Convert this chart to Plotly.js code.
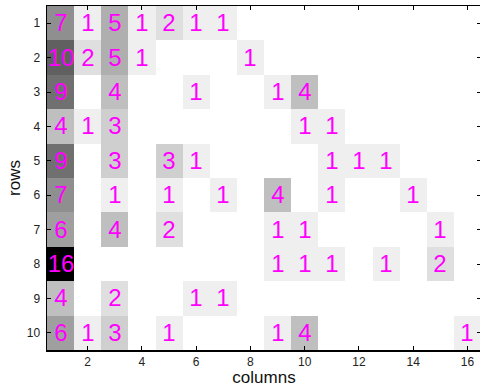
<!DOCTYPE html>
<html>
<head>
<meta charset="utf-8">
<script src="https://cdn.plot.ly/plotly-3.0.1.min.js"></script>
<style>html,body{margin:0;padding:0;overflow:hidden;background:#fff;}</style>
</head>
<body>
<div id="chart"></div>
<script>
const columns = [1,2,3,4,5,6,7,8,9,10,11,12,13,14,15,16];
const rows = [1,2,3,4,5,6,7,8,9,10];
const counts = [
  [7,1,5,1,2,1,1,0,0,0,0,0,0,0,0,0],
  [10,2,5,1,0,0,0,1,0,0,0,0,0,0,0,0],
  [9,0,4,0,0,1,0,0,1,4,0,0,0,0,0,0],
  [4,1,3,0,0,0,0,0,0,1,1,0,0,0,0,0],
  [9,0,3,0,3,1,0,0,0,0,1,1,1,0,0,0],
  [7,0,1,0,1,0,1,0,4,0,1,0,0,1,0,0],
  [6,0,4,0,2,0,0,0,1,1,0,0,0,0,1,0],
  [16,0,0,0,0,0,0,0,1,1,1,0,1,0,2,0],
  [4,0,2,0,0,1,1,0,0,0,0,0,0,0,0,0],
  [6,1,3,0,1,0,0,0,1,4,0,0,0,0,0,1]
];
const xTicks = [2,4,6,8,10,12,14,16];
const yTicks = [1,2,3,4,5,6,7,8,9,10];

const labels = counts.map(r => r.map(v => v === 0 ? '' : String(v)));

const trace = {
  type: 'heatmap',
  x: columns,
  y: rows,
  z: counts,
  text: labels,
  texttemplate: '%{text}',
  textfont: {family: 'Liberation Sans, Arial, sans-serif', size: 24, color: '#ff00ff'},
  colorscale: [[0,'#ffffff'],[1,'#000000']],
  zmin: 0, zmax: 16,
  showscale: false,
  hoverinfo: 'skip',
  xgap: 0, ygap: 0
};

const axisCommon = {
  showgrid: false, zeroline: false,
  showline: true, linecolor: '#000', linewidth: 1.5, mirror: 'ticks',
  ticks: 'inside', ticklen: 4, tickwidth: 1, tickcolor: '#000',
  tickfont: {family: 'Liberation Sans, Arial, sans-serif', size: 12, color: '#222'}
};

const layout = {
  width: 481, height: 387,
  margin: {l: 47, r: 0, t: 6, b: 37},
  paper_bgcolor: '#fff', plot_bgcolor: '#fff',
  xaxis: Object.assign({}, axisCommon, {
    range: [0.5, 16.5], tickmode: 'array', tickvals: xTicks, ticktext: xTicks.map(String),
    title: {text: 'columns', font: {family: 'Liberation Sans, Arial, sans-serif', size: 17, color: '#111'}, standoff: 2}
  }),
  yaxis: Object.assign({}, axisCommon, {
    range: [10.5, 0.5], tickmode: 'array', tickvals: yTicks, ticktext: yTicks.map(String),
    ticklabelstandoff: 3,
    title: {text: 'rows', font: {family: 'Liberation Sans, Arial, sans-serif', size: 17, color: '#111'}, standoff: 2}
  }),
  showlegend: false
};

Plotly.newPlot('chart', [trace], layout, {displayModeBar: false, staticPlot: true});
</script>
</body>
</html>
